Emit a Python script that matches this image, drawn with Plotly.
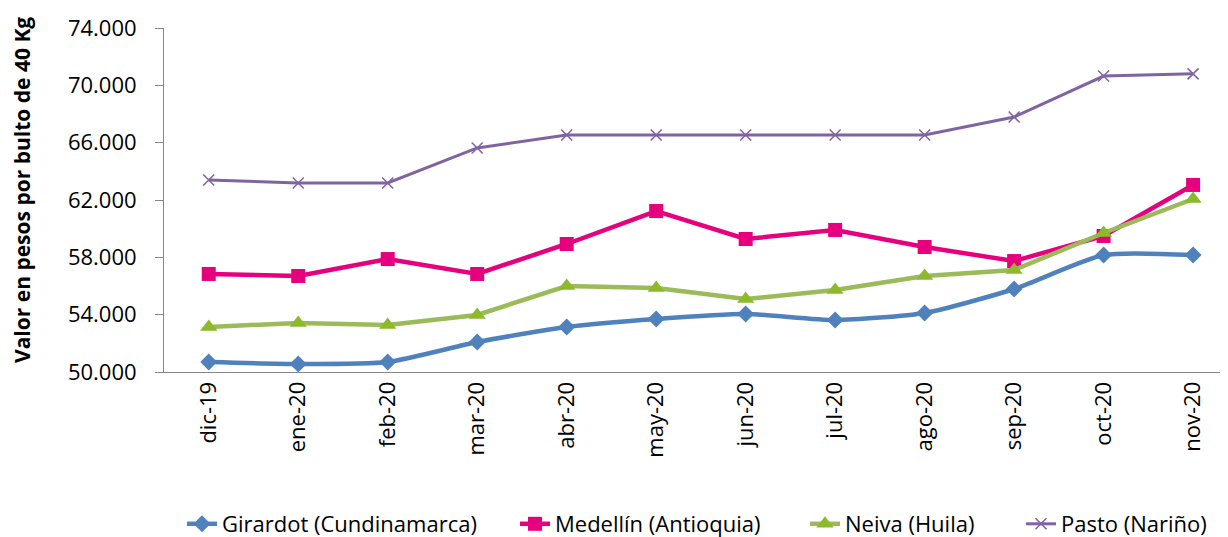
import plotly.graph_objects as go

# Monthly prices (pesos per 40 kg sack)
months = ["dic-19", "ene-20", "feb-20", "mar-20", "abr-20", "may-20",
          "jun-20", "jul-20", "ago-20", "sep-20", "oct-20", "nov-20"]

girardot = [50700, 50560, 50700, 52090, 53140, 53700, 54050, 53630, 54120, 55790, 58160, 58160]
medellin = [56840, 56700, 57880, 56840, 58930, 61230, 59280, 59910, 58720, 57740, 59490, 63050]
neiva = [53140, 53420, 53280, 53980, 56000, 55860, 55090, 55720, 56700, 57120, 59700, 62070]
pasto = [63400, 63190, 63190, 65630, 66540, 66540, 66540, 66540, 66540, 67790, 70650, 70800]

series_names = ["Girardot (Cundinamarca)", "Medellín (Antioquia)", "Neiva (Huila)", "Pasto (Nariño)"]

FONT = "Open Sans"
# the page body adds an 8px margin, so the figure is drawn 8px smaller
OFF = 8
W, H = 1228 - OFF, 537 - OFF
PLOT_L, PLOT_T, PLOT_B = 164 - OFF, 28 - OFF, 372 - OFF

fig = go.Figure()

# Girardot - blue, smoothed line with diamonds
fig.add_trace(go.Scatter(
    x=months, y=girardot, name=series_names[0], mode="lines+markers",
    line=dict(color="#4F81BD", width=4.5, shape="spline", smoothing=0.6),
    marker=dict(symbol="diamond", size=13, color="#4F81BD"),
    showlegend=True, legend="legend",
))

# Medellín - magenta with squares
fig.add_trace(go.Scatter(
    x=months, y=medellin, name=series_names[1], mode="lines+markers",
    line=dict(color="#E6007E", width=4.5),
    marker=dict(symbol="square", size=14, color="#E6007E"),
    showlegend=True, legend="legend2",
))

# Neiva - green with triangles
fig.add_trace(go.Scatter(
    x=months, y=neiva, name=series_names[2], mode="lines+markers",
    line=dict(color="#9BBB59", width=4.5),
    marker=dict(symbol="triangle-up", size=15, color="#8DB92A"),
    showlegend=True, legend="legend3",
))

# Pasto - purple with thin x markers
fig.add_trace(go.Scatter(
    x=months, y=pasto, name=series_names[3], mode="lines+markers",
    line=dict(color="#8064A2", width=3),
    marker=dict(symbol="x-thin-open", size=11, color="#8064A2",
                line=dict(color="#8064A2", width=1.5)),
    showlegend=True, legend="legend4",
))


def legend_at(px):
    # legends placed in container coordinates so they don't push the margins
    return dict(
        xref="container", yref="container",
        x=(px - OFF) / W, y=1 - (524 - OFF) / H, xanchor="left", yanchor="middle",
        orientation="h", font=dict(family=FONT, size=22, color="#000000"),
        bgcolor="rgba(0,0,0,0)", itemwidth=30,
    )


fig.update_layout(
    width=W,
    height=H,
    margin=dict(l=PLOT_L, r=0, t=PLOT_T, b=H - PLOT_B),
    paper_bgcolor="white",
    plot_bgcolor="white",
    separators=",.",
    showlegend=True,
    font=dict(family=FONT, size=22, color="#000000"),
    legend=legend_at(182),
    legend2=legend_at(515),
    legend3=legend_at(805),
    legend4=legend_at(1021),
    xaxis=dict(
        type="category",
        range=[-0.5, 11.39],
        tickangle=-90,
        showline=True, linecolor="#868686", linewidth=1,
        ticks="", showgrid=False, zeroline=False,
        automargin=False,
        tickfont=dict(family=FONT, size=22, color="#000000"),
    ),
    yaxis=dict(
        range=[50000, 74000],
        tickvals=[50000, 54000, 58000, 62000, 66000, 70000, 74000],
        tickformat=",.0f",
        showline=True, linecolor="#868686", linewidth=1,
        ticks="outside", ticklen=8, tickcolor="#868686",
        ticklabelstandoff=14,
        showgrid=False, zeroline=False,
        automargin=False,
        tickfont=dict(family=FONT, size=22, color="#000000"),
    ),
    annotations=[dict(
        text="<b>Valor en pesos por bulto de 40 Kg</b>",
        textangle=-90,
        xref="paper", yref="paper",
        x=(22 - OFF - PLOT_L) / (W - PLOT_L),
        y=(PLOT_B - (190 - OFF)) / (PLOT_B - PLOT_T),
        xanchor="center", yanchor="middle",
        showarrow=False,
        font=dict(family=FONT, size=21, color="#000000"),
    )],
)

fig.write_html("out.html")
